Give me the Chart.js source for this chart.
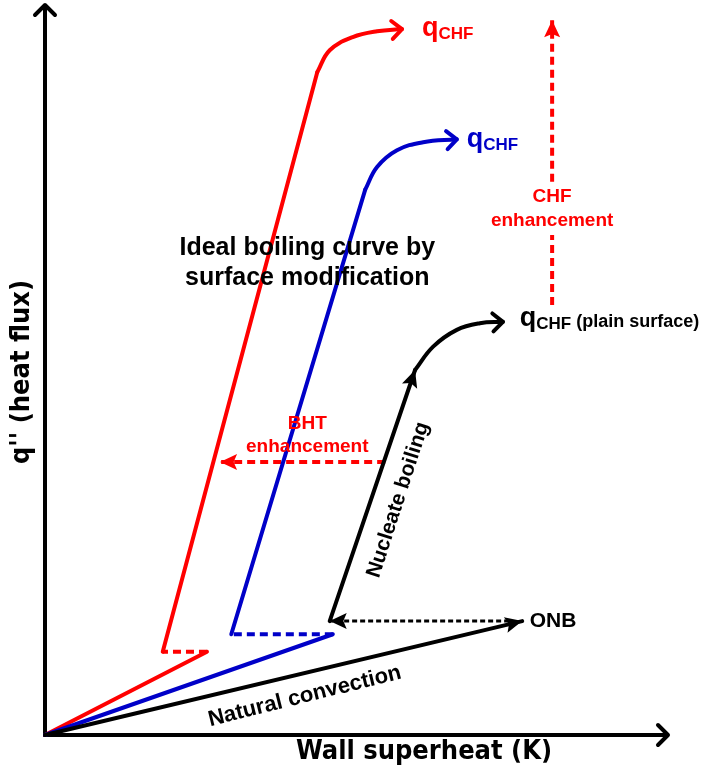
<!DOCTYPE html>
<html>
<head>
<meta charset="utf-8">
<script src="https://cdn.jsdelivr.net/npm/chart.js@4.4.0/dist/chart.umd.min.js"></script>
<style>
  html, body { margin: 0; padding: 0; background: #fff; }
  #wrap { width: 707px; height: 769px; }
</style>
</head>
<body>
<div id="wrap"><canvas id="boilingChart"></canvas></div>
<script>
// ─── Curve data (arbitrary units: wall superheat 0-100, heat flux 0-100) ───
const plainConvection = [[0, 0], [76.6, 15.6]];
const plainOnbReturn  = [[74.5, 15.6], [45.7, 15.6]];
const plainNucleate   = [[45.7, 15.6], [59.4, 50.0]];
const plainToChf      = [[59.4, 50.0], [62.3, 53.2], [66.1, 55.5], [69.8, 56.4], [73.5, 56.6]];

const blueConvection  = [[0, 0], [46.2, 13.8]];
const blueOnbShift    = [[46.2, 13.8], [29.9, 13.8]];
const blueNucleate    = [[29.9, 13.8], [51.4, 74.7]];
const blueToChf       = [[51.4, 74.7], [53.3, 77.8], [56.5, 80.1], [60.7, 81.2], [66.1, 81.6]];

const redConvection   = [[0, 0], [26.0, 11.4]];
const redOnbShift     = [[26.0, 11.4], [18.9, 11.4]];
const redNucleate     = [[18.9, 11.4], [43.7, 90.8]];
const redToChf        = [[43.7, 90.8], [45.7, 93.8], [49.4, 95.6], [53.3, 96.4], [57.3, 96.7]];

const bhtArrow        = [[54.6, 37.4], [28.1, 37.4]];
const chfArrowLow     = [[81.4, 58.9], [81.4, 68.5]];
const chfArrowHigh    = [[81.4, 75.8], [81.4, 97.9]];

const RED = '#ff0000';
const BLUE = '#0000c8';
const BLACK = '#000000';
const FONT = "'Liberation Sans', Arial, sans-serif";
const AXIS_FONT = "'DejaVu Sans Condensed', 'Liberation Sans Narrow', sans-serif";

function seg(points, color, opts = {}) {
  return Object.assign({
    data: points.map(([x, y]) => ({ x, y })),
    showLine: true,
    borderColor: color,
    backgroundColor: color,
    borderWidth: 4,
    pointRadius: 0,
    tension: 0,
    clip: false,
    borderCapStyle: 'round',
    borderJoinStyle: 'round'
  }, opts);
}

const dashed = { borderDash: [8, 5], borderCapStyle: 'butt' };

// ─── Annotation texts (anchored in data units) ───
const notes = [
  { q: true, color: RED,   x: 60.5, y: 96.3 },
  { q: true, color: BLUE,  x: 67.7, y: 81.1 },
  { q: true, color: BLACK, x: 76.2, y: 56.6, tail: ' (plain surface)' },
  { text: 'ONB', color: BLACK, x: 77.8, y: 15.6, size: 21, align: 'left' },
  { text: 'BHT', color: RED, x: 42.1, y: 42.7, size: 19 },
  { text: 'enhancement', color: RED, x: 42.1, y: 39.5, size: 19 },
  { text: 'CHF', color: RED, x: 81.4, y: 73.7, size: 19 },
  { text: 'enhancement', color: RED, x: 81.4, y: 70.5, size: 19 },
  { text: 'Ideal boiling curve by', color: BLACK, x: 42.1, y: 66.7, size: 25 },
  { text: 'surface modification', color: BLACK, x: 42.1, y: 62.6, size: 25 },
  { text: 'Nucleate boiling', color: BLACK, x: 56.7, y: 32.2, size: 21, rotate: -72 },
  { text: 'Natural convection', color: BLACK, x: 41.7, y: 5.3, size: 22, rotate: -14 }
];

function arrowHead(ctx, x, y, ang, style, color, len, half) {
  ctx.save();
  ctx.translate(x, y);
  ctx.rotate(ang);
  ctx.strokeStyle = color;
  ctx.fillStyle = color;
  if (style === 'open') {
    ctx.lineWidth = 4;
    ctx.lineCap = 'round';
    ctx.lineJoin = 'round';
    ctx.beginPath();
    ctx.moveTo(-len, -half);
    ctx.lineTo(0, 0);
    ctx.lineTo(-len, half);
    ctx.stroke();
  } else {
    ctx.beginPath();
    ctx.moveTo(0, 0);
    ctx.lineTo(-len, -half);
    ctx.lineTo(-len * 0.8, 0);
    ctx.lineTo(-len, half);
    ctx.closePath();
    ctx.fill();
  }
  ctx.restore();
}

const axesPlugin = {
  id: 'axes',
  beforeDatasetsDraw(chart) {
    const { ctx, chartArea: a } = chart;
    ctx.save();
    ctx.strokeStyle = BLACK;
    ctx.lineWidth = 4;
    ctx.lineCap = 'butt';
    ctx.beginPath();
    ctx.moveTo(a.left, a.top);
    ctx.lineTo(a.left, a.bottom);
    ctx.lineTo(a.right, a.bottom);
    ctx.stroke();
    ctx.restore();
    arrowHead(ctx, a.left, a.top, -Math.PI / 2, 'open', BLACK, 10, 10);
    arrowHead(ctx, a.right, a.bottom, 0, 'open', BLACK, 10, 10);

    ctx.save();
    ctx.fillStyle = BLACK;
    ctx.font = `bold 27px ${AXIS_FONT}`;
    ctx.textAlign = 'center';
    ctx.textBaseline = 'middle';
    ctx.fillText('Wall superheat (K)', 424, a.bottom + 17);
    ctx.translate(22, 372);
    ctx.rotate(-Math.PI / 2);
    ctx.fillText("q'' (heat flux)", 0, 0);
    ctx.restore();
  }
};

const arrowPlugin = {
  id: 'arrows',
  afterDatasetsDraw(chart) {
    const { ctx } = chart;
    chart.data.datasets.forEach((ds, i) => {
      if (!ds.arrow) return;
      const pts = chart.getDatasetMeta(i).data;
      const end = pts[pts.length - 1];
      const prev = pts[pts.length - 2];
      const fx = end.cp1x != null && ds.tension > 0 ? end.cp1x : prev.x;
      const fy = end.cp1y != null && ds.tension > 0 ? end.cp1y : prev.y;
      const ang = Math.atan2(end.y - fy, end.x - fx);
      const len = ds.arrow === 'open' ? 10 : 17;
      const half = ds.arrow === 'open' ? 9 : 8;
      arrowHead(ctx, end.x, end.y, ang, ds.arrow, ds.borderColor, len, half);
    });
  }
};

const notesPlugin = {
  id: 'notes',
  afterDatasetsDraw(chart) {
    const { ctx, scales: { x, y } } = chart;
    notes.forEach(n => {
      const px = x.getPixelForValue(n.x);
      const py = y.getPixelForValue(n.y);
      ctx.save();
      ctx.fillStyle = n.color;
      ctx.textBaseline = 'middle';
      if (n.q) {
        ctx.textAlign = 'left';
        ctx.font = `bold 27px ${FONT}`;
        ctx.fillText('q', px, py - 3);
        let cx = px + ctx.measureText('q').width;
        ctx.font = `bold 17px ${FONT}`;
        ctx.fillText('CHF', cx, py + 2);
        if (n.tail) {
          cx += ctx.measureText('CHF').width;
          ctx.font = `bold 18px ${FONT}`;
          ctx.fillText(n.tail, cx, py);
        }
      } else {
        ctx.translate(px, py);
        if (n.rotate) ctx.rotate(n.rotate * Math.PI / 180);
        ctx.textAlign = n.align || 'center';
        ctx.font = `bold ${n.size}px ${FONT}`;
        ctx.fillText(n.text, 0, 0);
      }
      ctx.restore();
    });
  }
};

new Chart(document.getElementById('boilingChart'), {
  type: 'scatter',
  data: {
    datasets: [
      seg(plainOnbReturn, BLACK, { borderWidth: 3, borderDash: [5, 3], borderCapStyle: 'butt', arrow: 'fill' }),
      seg(plainConvection, BLACK, { arrow: 'fill' }),
      seg(plainNucleate, BLACK, { arrow: 'fill' }),
      seg(plainToChf, BLACK, { tension: 0.4, arrow: 'open' }),
      seg(blueConvection, BLUE),
      seg(blueOnbShift, BLUE, dashed),
      seg(blueNucleate, BLUE),
      seg(blueToChf, BLUE, { tension: 0.4, arrow: 'open' }),
      seg(redConvection, RED),
      seg(redOnbShift, RED, dashed),
      seg(redNucleate, RED),
      seg(redToChf, RED, { tension: 0.4, arrow: 'open' }),
      seg(bhtArrow, RED, Object.assign({ arrow: 'fill' }, dashed)),
      seg(chfArrowLow, RED, dashed),
      seg(chfArrowHigh, RED, Object.assign({ arrow: 'fill' }, dashed))
    ]
  },
  options: {
    responsive: true,
    maintainAspectRatio: false,
    animation: false,
    layout: { padding: { left: 45, right: 39, top: 5, bottom: 34 } },
    plugins: { legend: { display: false }, tooltip: { enabled: false } },
    scales: {
      x: { type: 'linear', min: 0, max: 100, display: false },
      y: { type: 'linear', min: 0, max: 100, display: false }
    }
  },
  plugins: [axesPlugin, arrowPlugin, notesPlugin]
});
</script>
</body>
</html>
